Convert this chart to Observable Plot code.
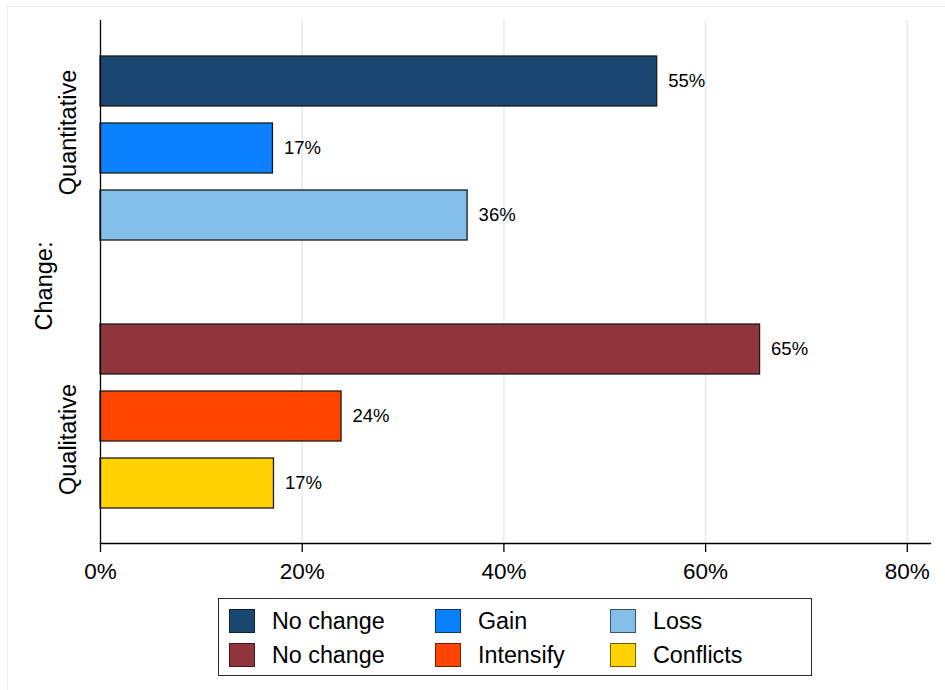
<!DOCTYPE html>
<html>
<head>
<meta charset="utf-8">
<script src="https://cdn.jsdelivr.net/npm/d3@7"></script>
<script src="https://cdn.jsdelivr.net/npm/@observablehq/plot@0.6"></script>
<style>
  html, body { margin: 0; padding: 0; background: #fff; }
  body { width: 945px; height: 690px; position: relative; overflow: hidden;
         font-family: "Liberation Sans", Arial, sans-serif; }
  #frame { position: absolute; left: 7px; top: 6px; width: 1000px; height: 800px;
           border-top: 1.5px solid #e6eef0; border-left: 1.5px solid #e6eef0; pointer-events: none; }
  #chart { position: absolute; left: 0; top: 0; }
  #legend { position: absolute; left: 218px; top: 598px; width: 594px; height: 78px;
            border: 1.3px solid #2a2a2a; box-sizing: border-box; background: #fff; }
  .item { position: absolute; display: flex; align-items: center; height: 24px;
          font-size: 23.3px; color: #000; white-space: nowrap; }
  .sw { width: 26px; height: 24px; box-sizing: border-box; margin-right: 17px;
        border: 1.5px solid rgba(0,0,0,0.55); }
</style>
</head>
<body>
<div id="frame"></div>
<div id="chart"></div>
<div id="legend"></div>
<script>
// ---- data ----
const groups = ["Quantitative", "Quantitative", "Quantitative", "Qualitative", "Qualitative", "Qualitative"];
const categories = ["No change", "Gain", "Loss", "No change", "Intensify", "Conflicts"];
const values = [55.2, 17.1, 36.4, 65.4, 23.9, 17.2];
const palette = ["#1a476f", "#0a80ff", "#82bee8", "#90353b", "#ff4500", "#ffd200"];
const groupLabels = ["Quantitative", "Qualitative"];
const xTicks = [0, 20, 40, 60, 80];
const axisTitle = "Change:";

const data = categories.map((c, i) => ({
  key: groups[i] + "|" + c, group: groups[i], category: c, value: values[i]
}));
const keys = data.map(d => d.key);
const yDomain = [...keys.slice(0, 3), "gap", ...keys.slice(3)];
const midKey = g => data.filter(d => d.group === g)[1].key;

const font = "'Liberation Sans', Arial, sans-serif";

const chart = Plot.plot({
  width: 945,
  height: 590,
  marginLeft: 100,
  marginRight: 15,
  marginTop: 20,
  marginBottom: 47,
  style: { fontFamily: font, fontSize: "22.5px", color: "#000", background: "transparent", overflow: "visible" },
  x: { domain: [0, 82.3], ticks: xTicks, tickFormat: d => d + "%", label: null },
  y: { domain: yDomain, paddingInner: 0.2556, paddingOuter: 0.521, axis: null },
  color: { domain: keys, range: palette },
  marks: [
    Plot.ruleX(xTicks.slice(1), { stroke: "#e2ecef", strokeWidth: 1.5 }),
    Plot.barX(data, { y: "key", x: "value", fill: "key", stroke: "#1a1a1a", strokeWidth: 1.3 }),
    Plot.text(data, { y: "key", x: "value", text: d => Math.round(d.value) + "%",
      dx: 11, textAnchor: "start", fontSize: 18.5, fill: "#000" }),
    Plot.ruleX([0], { stroke: "#000", strokeWidth: 1.3 }),
    Plot.frame({ anchor: "bottom", stroke: "#000", strokeWidth: 1.3 }),
    Plot.axisX({ ticks: xTicks, tickFormat: d => d + "%", tickSize: 9, tickPadding: 11,
      fontSize: 22.5, stroke: "#000", strokeWidth: 1.3, label: null }),
    Plot.text([groupLabels[0]], { y: () => midKey(groupLabels[0]), text: d => d,
      frameAnchor: "left", textAnchor: "middle", dx: -32, dy: -16, rotate: -90, fontSize: 23.5, fill: "#000" }),
    Plot.text([groupLabels[1]], { y: () => midKey(groupLabels[1]), text: d => d,
      frameAnchor: "left", textAnchor: "middle", dx: -32, dy: 23, rotate: -90, fontSize: 23.5, fill: "#000" }),
    Plot.text([axisTitle], { text: d => d, frameAnchor: "left", textAnchor: "middle", dx: -56, dy: 4, rotate: -90,
      fontSize: 23.5, fill: "#000" })
  ]
});
document.getElementById("chart").appendChild(chart);

// ---- legend ----
const legend = document.getElementById("legend");
const colX = [10, 216, 391];
const rowY = [10, 44];
data.forEach((d, i) => {
  const item = document.createElement("div");
  item.className = "item";
  item.style.left = colX[i % 3] + "px";
  item.style.top = rowY[Math.floor(i / 3)] + "px";
  const sw = document.createElement("span");
  sw.className = "sw";
  sw.style.background = palette[i];
  const label = document.createElement("span");
  label.textContent = d.category;
  item.appendChild(sw);
  item.appendChild(label);
  legend.appendChild(item);
});
</script>
</body>
</html>
